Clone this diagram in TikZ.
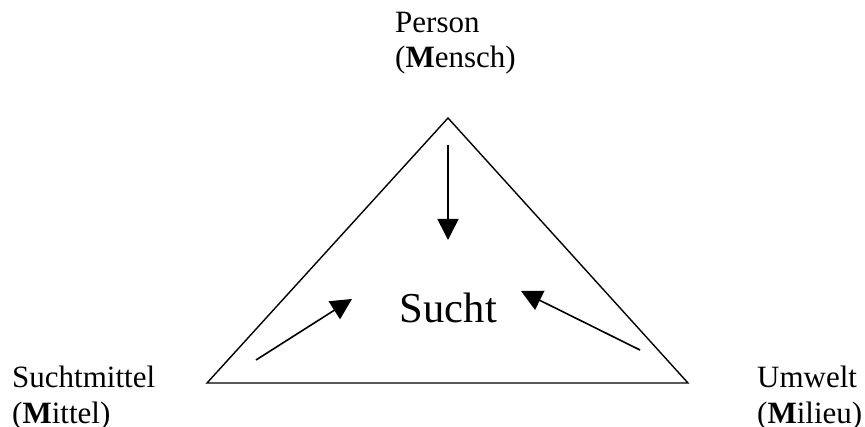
\documentclass[tikz,border=0pt]{standalone}
\usepackage{fontspec}
\setmainfont{Liberation Serif}
\usetikzlibrary{arrows.meta}
\tikzset{
  lbl/.style={inner sep=0pt, anchor=base west, font=\fontsize{31}{35}\selectfont},
  edge/.style={line width=1.4pt, line join=miter},
  arr/.style={line width=1.6pt, -{Triangle[length=21pt,width=21pt]}}
}
\begin{document}
\begin{tikzpicture}[x=1pt,y=1pt]
\useasboundingbox[fill=white] (0,0) rectangle (865,426);
% triangle
\coordinate (top) at (448,308);
\coordinate (bl) at (207,43);
\coordinate (br) at (688,43);
\draw[edge] (top) -- (bl) -- (br) -- cycle;
% centre label
\node[inner sep=0pt, anchor=base, font=\fontsize{42.6}{48}\selectfont] (sucht) at (448.5,103) {Sucht};
% arrows
\coordinate (a1s) at (448,281);
\coordinate (a1e) at (448,186);
\coordinate (a2s) at (256,66);
\coordinate (a2e) at (352,127);
\coordinate (a3s) at (640,76);
\coordinate (a3e) at (521,135);
\draw[arr] (a1s) -- (a1e);
\draw[arr] (a2s) -- (a2e);
\draw[arr] (a3s) -- (a3e);
% corner labels
\node[lbl] (person) at (395,393) {Person};
\node[lbl] (mensch) at (395,358) {(\textbf{M}ensch)};
\node[lbl] (suchtmittel) at (12,38) {Suchtmittel};
\node[lbl] (mittel) at (12,3) {(\textbf{M}ittel)};
\node[lbl] (umwelt) at (757,38) {Umwelt};
\node[lbl] (milieu) at (757,3) {(\textbf{M}ilieu)};
\end{tikzpicture}
\end{document}
